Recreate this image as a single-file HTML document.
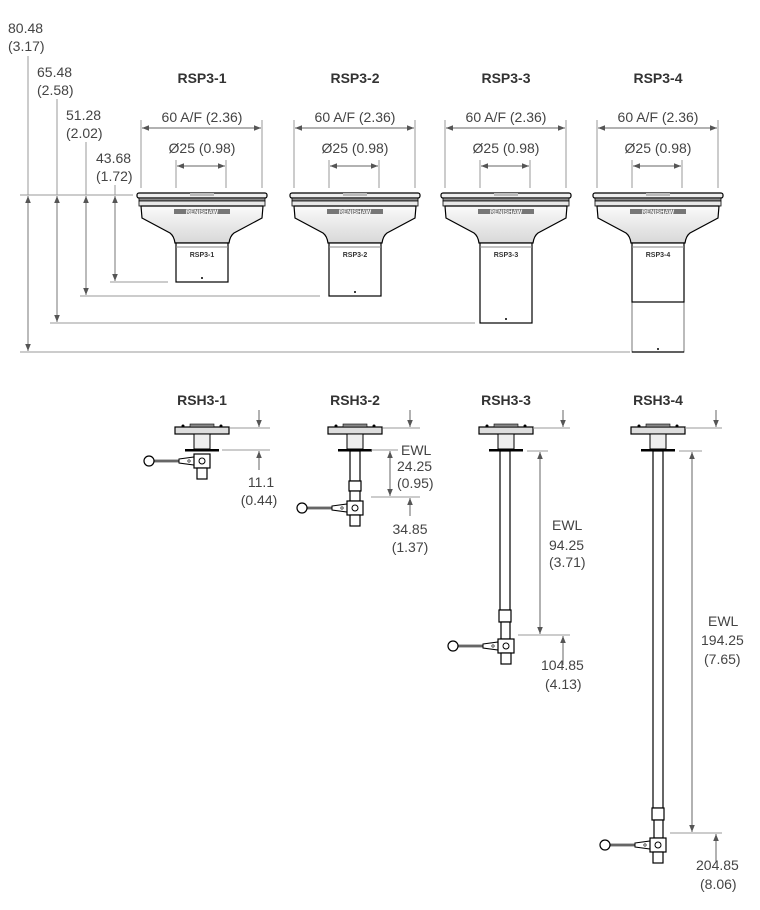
<!DOCTYPE html>
<html><head><meta charset="utf-8"><style>
html,body{margin:0;padding:0;background:#fff;}
svg{display:block;font-family:"Liberation Sans",Arial,sans-serif;}
.d{font-size:14px;fill:#444;}
.t{font-size:14px;font-weight:bold;fill:#333;}
.g{stroke:#9a9a9a;stroke-width:1;fill:none;}
.k{stroke:#000;stroke-width:1.2;}
</style></head><body>
<svg width="760" height="910" viewBox="0 0 760 910" xmlns="http://www.w3.org/2000/svg">
<defs>
<marker id="a" viewBox="0 0 10 10" refX="10" refY="5" markerWidth="9" markerHeight="7" orient="auto-start-reverse" markerUnits="userSpaceOnUse"><path d="M0,1 L10,5 L0,9 z" fill="#555"/></marker>
<linearGradient id="cg" x1="0" x2="0" y1="0" y2="1"><stop offset="0" stop-color="#fafafa"/><stop offset="1" stop-color="#d8d8d8"/></linearGradient>
<g id="cap">
<rect x="-65" y="0" width="130" height="5" rx="2" fill="#eee" stroke="#000" stroke-width="1.2"/>
<rect x="-12" y="0" width="24" height="3" fill="#bbb"/>
<rect x="-63" y="5" width="126" height="3" fill="#888" stroke="#000" stroke-width="0.8"/>
<rect x="-63" y="8" width="126" height="5" fill="#e8e8e8" stroke="#000" stroke-width="0.8"/>
<path d="M-61,13 L61,13 L60,25 L32,40 Q28,43 27,50 L-27,50 Q-28,43 -32,40 L-60,25 Z" fill="url(#cg)" stroke="#000" stroke-width="1.2"/>
<rect x="-28" y="16" width="56" height="5" fill="#777"/>
<text x="0" y="21" font-size="6" fill="#fff" text-anchor="middle" font-weight="bold">RENISHAW</text>
<line x1="-27" y1="50" x2="27" y2="50" stroke="#000"/>
</g>
<g id="head">
<rect x="-27" y="2" width="54" height="7" fill="#ddd" stroke="#000" stroke-width="1.2"/>
<rect x="-12" y="-1" width="24" height="3" fill="#888" stroke="#000" stroke-width="0.6"/>
<circle cx="-19" cy="1" r="1.5" fill="#000"/><circle cx="19" cy="1" r="1.5" fill="#000"/>
<rect x="-8" y="9" width="16" height="15" fill="#eee" stroke="#000" stroke-width="1"/>
<rect x="-17" y="24" width="34" height="2.5" fill="#000"/>
</g>
<g id="knuc">
<line x1="-49" y1="0" x2="-22" y2="0" stroke="#000" stroke-width="2.5"/>
<line x1="-49" y1="0" x2="-22" y2="0" stroke="#ccc" stroke-width="1"/>
<circle cx="-53" cy="0" r="5" fill="#fff" stroke="#000" stroke-width="1.2"/>
<path d="M-23,-2 L-8,-4 L-8,4 L-23,2 Z" fill="#fff" stroke="#000"/>
<circle cx="-13" cy="0" r="1.2" fill="none" stroke="#000" stroke-width="0.6"/>
<rect x="-8" y="-7" width="16" height="14" fill="#fff" stroke="#000" stroke-width="1.2"/>
<circle cx="0" cy="0" r="3" fill="none" stroke="#000"/>
<rect x="-5" y="7" width="10" height="11" fill="#fff" stroke="#000" stroke-width="1.2"/>
</g>
</defs>

<!-- top titles -->
<text class="t" x="202" y="83" text-anchor="middle">RSP3-1</text>
<text class="t" x="355" y="83" text-anchor="middle">RSP3-2</text>
<text class="t" x="506" y="83" text-anchor="middle">RSP3-3</text>
<text class="t" x="658" y="83" text-anchor="middle">RSP3-4</text>

<!-- width dims -->
<g>
<text class="d" x="202" y="122" text-anchor="middle">60 A/F (2.36)</text>
<text class="d" x="202" y="153" text-anchor="middle">Ø25 (0.98)</text>
<text class="d" x="355" y="122" text-anchor="middle">60 A/F (2.36)</text>
<text class="d" x="355" y="153" text-anchor="middle">Ø25 (0.98)</text>
<text class="d" x="506" y="122" text-anchor="middle">60 A/F (2.36)</text>
<text class="d" x="506" y="153" text-anchor="middle">Ø25 (0.98)</text>
<text class="d" x="658" y="122" text-anchor="middle">60 A/F (2.36)</text>
<text class="d" x="658" y="153" text-anchor="middle">Ø25 (0.98)</text>
</g>
<g class="g">
<path d="M141,120V188M262,120V188M176,160V188M226,160V188"/>
<path d="M294,120V188M415,120V188M329,160V188M379,160V188"/>
<path d="M445,120V188M566,120V188M480,160V188M530,160V188"/>
<path d="M597,120V188M718,120V188M632,160V188M682,160V188"/>
</g>
<g stroke="#666" stroke-width="1">
<line x1="142" y1="128" x2="261" y2="128" marker-start="url(#a)" marker-end="url(#a)"/>
<line x1="177" y1="166" x2="225" y2="166" marker-start="url(#a)" marker-end="url(#a)"/>
<line x1="295" y1="128" x2="414" y2="128" marker-start="url(#a)" marker-end="url(#a)"/>
<line x1="330" y1="166" x2="378" y2="166" marker-start="url(#a)" marker-end="url(#a)"/>
<line x1="446" y1="128" x2="565" y2="128" marker-start="url(#a)" marker-end="url(#a)"/>
<line x1="481" y1="166" x2="529" y2="166" marker-start="url(#a)" marker-end="url(#a)"/>
<line x1="598" y1="128" x2="717" y2="128" marker-start="url(#a)" marker-end="url(#a)"/>
<line x1="633" y1="166" x2="681" y2="166" marker-start="url(#a)" marker-end="url(#a)"/>
</g>

<!-- left height dims -->
<text class="d" x="8" y="33">80.48</text><text class="d" x="8" y="51">(3.17)</text>
<text class="d" x="37" y="77">65.48</text><text class="d" x="37" y="95">(2.58)</text>
<text class="d" x="66" y="120">51.28</text><text class="d" x="66" y="138">(2.02)</text>
<text class="d" x="96" y="163">43.68</text><text class="d" x="96" y="181">(1.72)</text>
<g class="g">
<path d="M20,195H133"/>
<path d="M20,352H630M50,323H475M80,296H320M110,282H168"/>
<path d="M28,56V195M57,99V195M86,142V195M115,185V195"/>
</g>
<g stroke="#777" stroke-width="1">
<line x1="28" y1="196" x2="28" y2="351" marker-start="url(#a)" marker-end="url(#a)"/>
<line x1="57" y1="196" x2="57" y2="322" marker-start="url(#a)" marker-end="url(#a)"/>
<line x1="86" y1="196" x2="86" y2="295" marker-start="url(#a)" marker-end="url(#a)"/>
<line x1="115" y1="196" x2="115" y2="281" marker-start="url(#a)" marker-end="url(#a)"/>
</g>

<!-- RSP bodies -->
<g transform="translate(202,193)"><use href="#cap"/><rect x="-26" y="50" width="52" height="39" fill="#fff" stroke="#000" stroke-width="1.2"/><line x1="-26" y1="54" x2="26" y2="54" stroke="#888"/><text x="0" y="64" font-size="7" font-weight="bold" text-anchor="middle" fill="#333">RSP3-1</text><circle cx="0" cy="85" r="1" fill="#000"/></g>
<g transform="translate(355,193)"><use href="#cap"/><rect x="-26" y="50" width="52" height="53" fill="#fff" stroke="#000" stroke-width="1.2"/><line x1="-26" y1="54" x2="26" y2="54" stroke="#888"/><text x="0" y="64" font-size="7" font-weight="bold" text-anchor="middle" fill="#333">RSP3-2</text><circle cx="0" cy="99" r="1" fill="#000"/></g>
<g transform="translate(506,193)"><use href="#cap"/><rect x="-26" y="50" width="52" height="80" fill="#fff" stroke="#000" stroke-width="1.2"/><line x1="-26" y1="54" x2="26" y2="54" stroke="#888"/><text x="0" y="64" font-size="7" font-weight="bold" text-anchor="middle" fill="#333">RSP3-3</text><circle cx="0" cy="126" r="1" fill="#000"/></g>
<g transform="translate(658,193)"><use href="#cap"/><rect x="-26" y="109" width="52" height="50" fill="#fff" stroke="#777" stroke-width="1"/><line x1="-26" y1="159" x2="26" y2="159" stroke="#000" stroke-width="1.2"/><rect x="-26" y="50" width="52" height="59" fill="#fff" stroke="#000" stroke-width="1.2"/><line x1="-26" y1="54" x2="26" y2="54" stroke="#888"/><text x="0" y="64" font-size="7" font-weight="bold" text-anchor="middle" fill="#333">RSP3-4</text><circle cx="0" cy="156" r="1" fill="#000"/></g>

<!-- RSH titles -->
<text class="t" x="202" y="405" text-anchor="middle">RSH3-1</text>
<text class="t" x="355" y="405" text-anchor="middle">RSH3-2</text>
<text class="t" x="506" y="405" text-anchor="middle">RSH3-3</text>
<text class="t" x="658" y="405" text-anchor="middle">RSH3-4</text>

<!-- RSH3-1 -->
<g transform="translate(202,425)"><use href="#head"/></g>
<g transform="translate(202,461)"><use href="#knuc"/></g>
<g class="g"><path d="M230,428H270M222,450H270"/></g>
<g stroke="#666"><line x1="259" y1="410" x2="259" y2="427" marker-end="url(#a)"/><line x1="259" y1="470" x2="259" y2="451" marker-end="url(#a)"/></g>
<text class="d" x="261" y="487" text-anchor="middle">11.1</text><text class="d" x="259" y="505" text-anchor="middle">(0.44)</text>

<!-- RSH3-2 -->
<g transform="translate(355,425)"><use href="#head"/></g>
<rect x="350" y="451" width="10" height="30" fill="#fff" stroke="#000" stroke-width="1.2"/>
<rect x="349" y="481" width="12" height="10" fill="#fff" stroke="#000" stroke-width="1.2"/>
<rect x="350" y="491" width="10" height="10" fill="#fff" stroke="#000" stroke-width="1.2"/>
<g transform="translate(355,508)"><use href="#knuc"/></g>
<g class="g"><path d="M383,428H420M371,450H398M371,497H420"/></g>
<g stroke="#666"><line x1="410" y1="410" x2="410" y2="427" marker-end="url(#a)"/><line x1="390" y1="451" x2="390" y2="496" marker-start="url(#a)" marker-end="url(#a)"/><line x1="410" y1="516" x2="410" y2="498" marker-end="url(#a)"/></g>
<text class="d" x="401" y="455">EWL</text><text class="d" x="397" y="471">24.25</text><text class="d" x="397" y="488">(0.95)</text>
<text class="d" x="410" y="534" text-anchor="middle">34.85</text><text class="d" x="410" y="552" text-anchor="middle">(1.37)</text>

<!-- RSH3-3 -->
<g transform="translate(506,425)"><use href="#head"/></g>
<rect x="500" y="451" width="10" height="159" fill="#fff" stroke="#000" stroke-width="1.2"/>
<rect x="499" y="610" width="12" height="12" fill="#fff" stroke="#000" stroke-width="1.2"/>
<rect x="501" y="622" width="9" height="17" fill="#fff" stroke="#000" stroke-width="1.2"/>
<g transform="translate(506,646)"><use href="#knuc"/></g>
<g class="g"><path d="M533,428H570M527,451H548M518,635H570"/></g>
<g stroke="#666"><line x1="563" y1="410" x2="563" y2="427" marker-end="url(#a)"/><line x1="540" y1="452" x2="540" y2="634" marker-start="url(#a)" marker-end="url(#a)"/><line x1="563" y1="665" x2="563" y2="636" marker-end="url(#a)"/></g>
<text class="d" x="552" y="530">EWL</text><text class="d" x="549" y="550">94.25</text><text class="d" x="549" y="567">(3.71)</text>
<text class="d" x="541" y="670">104.85</text><text class="d" x="545" y="689">(4.13)</text>

<!-- RSH3-4 -->
<g transform="translate(658,425)"><use href="#head"/></g>
<rect x="653" y="451" width="10" height="357" fill="#fff" stroke="#000" stroke-width="1.2"/>
<rect x="652" y="808" width="12" height="12" fill="#fff" stroke="#000" stroke-width="1.2"/>
<rect x="654" y="820" width="9" height="18" fill="#fff" stroke="#000" stroke-width="1.2"/>
<g transform="translate(658,845)"><use href="#knuc"/></g>
<g class="g"><path d="M685,428H722M679,451H702M670,833H722"/></g>
<g stroke="#666"><line x1="716" y1="410" x2="716" y2="427" marker-end="url(#a)"/><line x1="692" y1="452" x2="692" y2="832" marker-start="url(#a)" marker-end="url(#a)"/><line x1="716" y1="862" x2="716" y2="834" marker-end="url(#a)"/></g>
<text class="d" x="708" y="626">EWL</text><text class="d" x="701" y="645">194.25</text><text class="d" x="704" y="664">(7.65)</text>
<text class="d" x="696" y="870">204.85</text><text class="d" x="700" y="889">(8.06)</text>
</svg>
</body></html>
